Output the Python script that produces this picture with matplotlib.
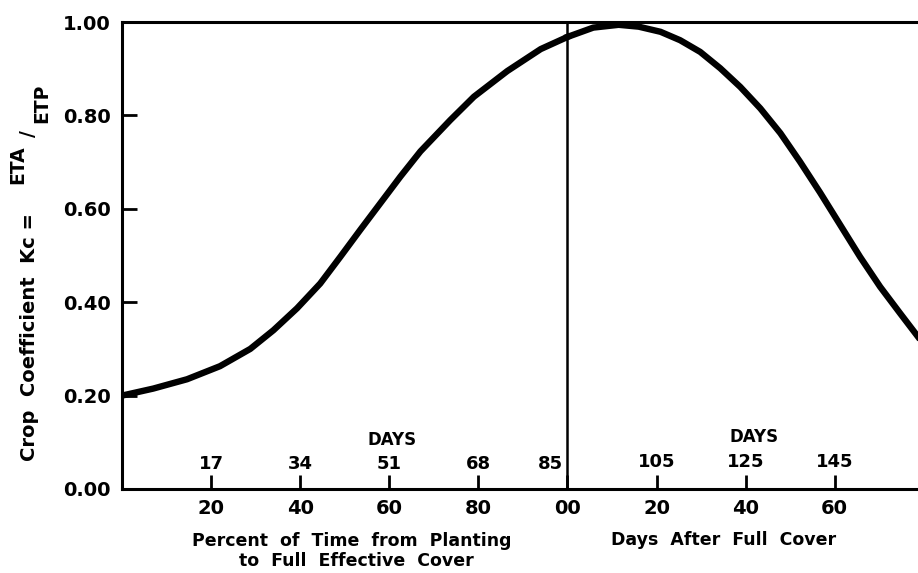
import numpy as np
import matplotlib
matplotlib.use("Agg")
import matplotlib.pyplot as plt
import matplotlib.transforms as mtrans

# curve: percent of time to full cover, then days after
pct = [0, 7, 14.6, 22, 28.8, 34.0, 39.3, 44.5, 49.0, 53.5, 58.0, 62.5, 67.0,
       73.7, 79, 86.5, 94, 100]
kc_pct = [0.200, 0.215, 0.235, 0.263, 0.300, 0.340, 0.387, 0.440, 0.497,
          0.555, 0.612, 0.669, 0.723, 0.790, 0.84, 0.895, 0.942, 0.968]
days = [0, 5.8, 11.5, 16, 20.9, 25.3, 29.8, 34.3, 38.8, 43.3, 47.8, 52.2,
        56.7, 61.2, 65.7, 70.2, 74.7, 78.7]
kc_days = [0.968, 0.988, 0.994, 0.99, 0.979, 0.961, 0.936, 0.901, 0.861,
           0.815, 0.762, 0.701, 0.635, 0.566, 0.497, 0.433, 0.376, 0.326]

pct_ticks = [20, 40, 60, 80]
pct_days = ["17", "34", "51", "68"]
after_ticks = [20, 40, 60]
after_days = ["105", "125", "145"]
yticks = [0.0, 0.2, 0.4, 0.6, 0.8, 1.0]
ylabels = ["0.00", "0.20", "0.40", "0.60", "0.80", "1.00"]

plt.rcParams["font.family"] = ["DejaVu Sans"]
plt.rcParams["font.weight"] = "bold"

fig = plt.figure(figsize=(9.18, 5.73), dpi=100)
ax = fig.add_axes([0.1329, 0.1466, 0.8671, 0.815])

off = 100
x_after = [off + d for d in days]
ax.plot(pct, kc_pct, color="black", lw=4.6, solid_joinstyle="round")
ax.plot(x_after, kc_days, color="black", lw=4.6, solid_joinstyle="round")
ax.axvline(off, color="black", lw=1.8)
# little tick where curve meets the y axis
ax.plot([0, 3], [0.2, 0.2], color="black", lw=1.5)

ax.set_xlim(0, 178.7)
ax.set_ylim(0, 1.0)

for s in ["left", "bottom", "top"]:
    ax.spines[s].set_linewidth(2.2)
ax.spines["right"].set_visible(False)

xt = pct_ticks + [off] + [off + d for d in after_ticks]
xl = [str(p) for p in pct_ticks] + ["00"] + [str(d) for d in after_ticks]
ax.set_xticks(xt)
ax.set_xticklabels(xl, fontsize=14, fontweight="bold")
ax.tick_params(axis="x", direction="in", length=10, width=2, pad=7)

ax.set_yticks(yticks)
ax.set_yticklabels(ylabels, fontsize=14, fontweight="bold")
ax.tick_params(axis="y", direction="in", length=11, width=2, pad=8)

trans = mtrans.blended_transform_factory(ax.transData, ax.transAxes)
for p, d in zip(pct_ticks, pct_days):
    ax.text(p, 0.054, d, transform=trans, ha="center", va="center",
            fontsize=13, fontweight="bold")
ax.text(99.0, 0.054, "85", transform=trans, ha="right", va="center",
        fontsize=13, fontweight="bold")
for d, lab in zip(after_ticks, after_days):
    ax.text(off + d, 0.058, lab, transform=trans, ha="center", va="center",
            fontsize=13, fontweight="bold")
ax.text(60.6, 0.105, "DAYS", transform=trans, ha="center", va="center",
        fontsize=12, fontweight="bold")
ax.text(141.9, 0.111, "DAYS", transform=trans, ha="center", va="center",
        fontsize=12, fontweight="bold")

# axis titles
fig.text(352 / 918, 1 - 541 / 573, "Percent  of  Time  from  Planting",
         ha="center", va="center", fontsize=12.5, fontweight="bold")
fig.text(356 / 918, 1 - 561 / 573, "to  Full  Effective  Cover",
         ha="center", va="center", fontsize=12.5, fontweight="bold")
fig.text(724 / 918, 1 - 540 / 573, "Days  After  Full  Cover",
         ha="center", va="center", fontsize=12.5, fontweight="bold")

fig.text(30 / 918, 1 - 337 / 573, "Crop  Coefficient  Kc =", rotation=90,
         ha="center", va="center", fontsize=14, fontweight="bold")
fig.text(18 / 918, 1 - 165 / 573, "ETA", rotation=90,
         ha="center", va="center", fontsize=13.5, fontweight="bold")
fig.text(29 / 918, 1 - 134 / 573, "/", rotation=90,
         ha="center", va="center", fontsize=13.5, fontweight="bold")
fig.text(42 / 918, 1 - 103 / 573, "ETP", rotation=90,
         ha="center", va="center", fontsize=13.5, fontweight="bold")

fig.savefig("out.png", dpi=100)
